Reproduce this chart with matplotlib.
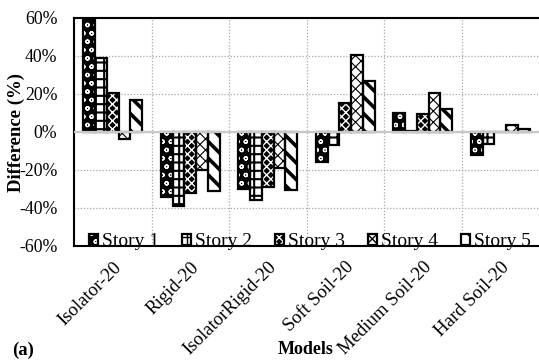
import matplotlib
matplotlib.use("Agg")
import matplotlib.pyplot as plt
import numpy as np
from matplotlib.ticker import PercentFormatter, FixedLocator
from matplotlib.legend_handler import HandlerTuple

categories = ["Isolator-20", "Rigid-20", "IsolatorRigid-20",
              "Soft Soil-20", "Medium Soil-20", "Hard Soil-20"]
series_names = ["Story 1", "Story 2", "Story 3", "Story 4", "Story 5"]
story1 = [59, -34, -30, -16, 10, -12]
story2 = [39, -39, -36, -7, 0.5, -6.5]
story3 = [20.5, -32, -29, 15.5, 9.5, 0]
story4 = [-3.5, -20, -19, 40.5, 20.5, 3.5]
story5 = [17, -31, -30.5, 27, 12, 1.5]
yticks = [-60, -40, -20, 0, 20, 40, 60]

plt.rcParams["font.family"] = ["Liberation Serif", "DejaVu Serif"]
plt.rcParams["axes.unicode_minus"] = False

# (face colour, hatch colour, hatch pattern, hatch line width)
styles = [
    ("black", "white", "oo", 0.9),
    ("white", "black", "++", 1.5),
    ("black", "white", "xxxx", 1.0),
    ("white", "black", "xxx", 0.8),
    ("white", "black", "\\\\", 2.6),
]

fig = plt.figure(figsize=(5.39, 3.60), dpi=100)
ax = fig.add_axes([74 / 539, 1 - 246 / 360, 1 - 74 / 539, (246 - 18) / 360])

x = np.arange(len(categories))
width = 0.152
data = [story1, story2, story3, story4, story5]
handles = []
for i, (vals, (fc, hc, hatch, hlw)) in enumerate(zip(data, styles)):
    pos = x + (i - 2) * width
    with plt.rc_context({"hatch.linewidth": hlw}):
        filled = ax.bar(pos, vals, width, color=fc, edgecolor=hc,
                        hatch=hatch, linewidth=0, zorder=2)
    for p in filled:
        if hasattr(p, "set_hatch_linewidth"):
            p.set_hatch_linewidth(hlw)
    outline = ax.bar(pos, vals, width, fill=False, edgecolor="black",
                     linewidth=1.6, zorder=2.5)
    handles.append((filled, outline))

ax.axhline(0, color="#c8c8c8", linewidth=1.6, zorder=3)

ax.set_xlim(-0.5, len(categories) - 0.5)
ax.set_ylim(-60, 60)
ax.set_yticks(yticks)
ax.yaxis.set_major_formatter(PercentFormatter(xmax=100, decimals=0))
ax.set_xticks(x)
ax.set_xticklabels(categories, rotation=45, ha="right",
                   rotation_mode="anchor")
ax.xaxis.set_minor_locator(FixedLocator(np.arange(0.5, len(categories) - 0.5, 1)))
ax.tick_params(axis="both", which="both", length=0)
ax.tick_params(axis="y", labelsize=12.8, pad=12)
ax.tick_params(axis="x", labelsize=13.5, pad=9)

ax.grid(axis="x", which="minor", color="#a8a8a8", linestyle=(0, (1, 1.5)),
        linewidth=0.9, zorder=0)
ax.grid(axis="y", which="major", color="#a8a8a8", linestyle=(0, (1, 1.5)),
        linewidth=0.9, zorder=0)
ax.set_axisbelow(True)

for side in ("left", "bottom", "top"):
    ax.spines[side].set_linewidth(1.5)
    ax.spines[side].set_color("black")
ax.spines["right"].set_visible(False)

ax.set_ylabel("Difference (%)", fontsize=13.5, fontweight="bold")
ax.yaxis.set_label_coords(-0.105, 0.5)

fig.text(306 / 539, 1 - 350 / 360, "Models", fontsize=13, fontweight="bold",
         ha="center", va="center")
fig.text(12 / 539, 1 - 350 / 360, "(a)", fontsize=13.5, fontweight="bold",
         ha="left", va="center")

leg = fig.legend(handles, series_names, loc="center",
                 bbox_to_anchor=(310 / 539, 1 - 242 / 360), ncol=5,
                 frameon=False, fontsize=14, handlelength=0.45,
                 handleheight=0.45, handletextpad=0.2, columnspacing=1.2,
                 handler_map={tuple: HandlerTuple(ndivide=1, pad=0)},
                 borderpad=0, borderaxespad=0)
leg.set_zorder(10)

fig.savefig("out.png", dpi=100)
